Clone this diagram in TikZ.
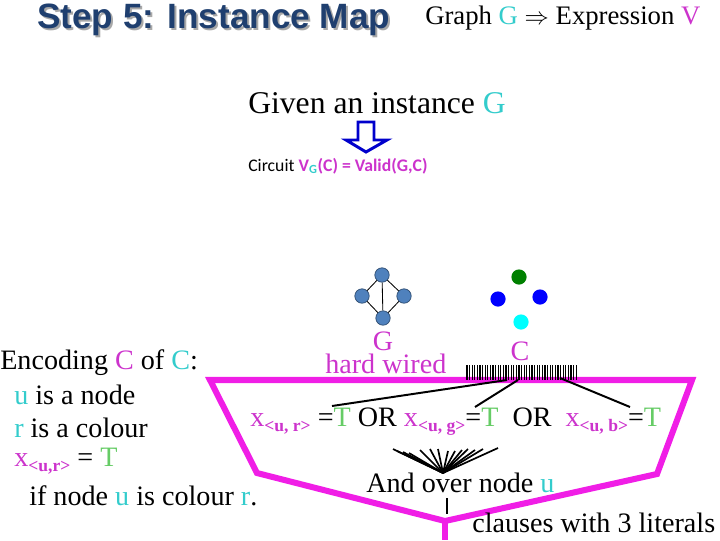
\documentclass[tikz,border=0pt]{standalone}
\usepackage{fontspec}
\setmainfont{Liberation Serif}
\setsansfont{Liberation Sans}
\newfontfamily\calibri{Carlito}
\usetikzlibrary{positioning}
\definecolor{titleblue}{HTML}{1F3F6F}
\definecolor{shadowgray}{HTML}{A8A8A8}
\definecolor{magent}{HTML}{CC33CC}
\definecolor{pinkline}{HTML}{F01EE6}
\definecolor{turq}{HTML}{33CCCC}
\definecolor{tgreen}{HTML}{66CC66}
\definecolor{steel}{HTML}{4F81BD}
\definecolor{darkgreen}{HTML}{008000}
\definecolor{purecyan}{HTML}{00FFFF}
\definecolor{pureblue}{HTML}{0000FF}
\definecolor{arrowblue}{HTML}{0000CC}
\newcommand{\xvar}[1]{{\color{magent}x\raisebox{-0.4ex}{\fontsize{12.5}{12.5}\selectfont\bfseries #1}}}
\newcommand{\tval}{{\color{tgreen}T}}
\tikzset{
  txt/.style={anchor=base west, inner sep=0pt, font=\fontsize{20}{24}\selectfont},
  bigtxt/.style={txt, font=\fontsize{22.5}{26}\selectfont},
  mtxt/.style={txt, text=magent},
  gnode/.style={circle, draw=steel!60!black, fill=steel, line width=0.5pt, minimum size=0.36cm, inner sep=0pt},
  cdot/.style={circle, minimum size=0.38cm, inner sep=0pt},
  gedge/.style={line width=0.6pt, draw=black},
  wire/.style={line width=1.4pt, draw=black},
  frame/.style={line width=4.3pt, draw=pinkline},
}

\begin{document}
\begin{tikzpicture}[x=0.025cm, y=-0.025cm]
  \useasboundingbox (0,0) rectangle (720,540);

  % heading
  \node[anchor=base west, inner sep=0pt, text=shadowgray, font=\sffamily\bfseries\fontsize{25}{28}\selectfont] (tshadow) at (39,30) {Step 5: Instance Map};
  \node[anchor=base west, inner sep=0pt, text=titleblue, font=\sffamily\bfseries\fontsize{25}{28}\selectfont] (title) at (37,28) {Step 5: Instance Map};
  \node[txt, font=\fontsize{19}{22}\selectfont] (map) at (425,24) {Graph {\color{turq}G} $\Rightarrow$ Expression {\color{magent}V}};

  \node[bigtxt] (given) at (248,113) {Given an instance {\color{turq}G}};
  \draw[line width=2.1pt, draw=arrowblue, fill=white, line join=miter]
    (358,122) -- (374,122) -- (374,140) -- (387,140) -- (366,152) -- (346,140) -- (358,140) -- cycle;
  \node[anchor=base west, inner sep=0pt, font=\calibri\fontsize{12.6}{14}\selectfont] (circ) at (248,171)
    {Circuit {\bfseries\color{magent}V\textsubscript{\color{turq}G}(C) = Valid(G,C)}};

  % graph G
  \node[gnode] (g1) at (382,275) {};
  \node[gnode] (g2) at (362,296) {};
  \node[gnode] (g3) at (404,296) {};
  \node[gnode] (g4) at (383,318) {};
  \foreach \a/\b in {g1/g2, g1/g3, g1/g4, g2/g4, g3/g4}
    \draw[gedge] (\a) -- (\b);

  % colours C
  \node[cdot, fill=darkgreen] (c1) at (519,277) {};
  \node[cdot, fill=pureblue] (c2) at (498,299) {};
  \node[cdot, fill=pureblue] (c3) at (540,297) {};
  \node[cdot, fill=purecyan] (c4) at (521,322) {};

  \node[mtxt, anchor=base] (glab) at (383,350) {G};
  \node[mtxt] (hw) at (325,373) {hard wired};
  \node[mtxt, anchor=base] (clab) at (520,360) {C};

  % encoding text
  \node[txt] (enc) at (0,369) {Encoding {\color{magent}C} of {\color{turq}C}:};
  \node[txt] (l1) at (14,404) {{\color{turq}u} is a node};
  \node[txt] (l2) at (14,437) {{\color{turq}r} is a colour};
  \node[txt] (l3) at (14,466) {\xvar{<u,r>} = \tval};
  \node[txt] (l4) at (29,505) {if node {\color{turq}u} is colour {\color{turq}r}.};

  % frame
  \draw[frame, line join=miter] (210,380) -- (692,380) -- (657,474) -- (445,521) -- (257,473) -- cycle;
  \draw[frame] (445,521) -- (445,540);

  % input bus
  \foreach \i in {0,...,42}
    \draw[line width=0.9pt] (467+2.6*\i,365) -- (467+2.6*\i,380);

  \node[txt] (ors) at (250,426) {\xvar{<u, r>} =\tval{} OR \xvar{<u, g>}=\tval\ \ OR\ \ \xvar{<u, b>}=\tval};

  \coordinate (b1) at (507,380);
  \coordinate (b2) at (518,380);
  \coordinate (b3) at (560,378);
  \coordinate (e1) at (332,406);
  \coordinate (e2) at (475,407);
  \coordinate (e3) at (630,407);
  \foreach \s/\t in {b1/e1, b2/e2, b3/e3}
    \draw[wire] (\s) -- (\t);

  % and gate fan
  \coordinate (fan) at (443,473);
  \foreach \x/\y in {393/449, 397/451, 403/452, 409/453, 420/450, 430/449, 438/449, 448/451, 455/451, 462/450, 468/449, 475/450, 483/449, 498/448}
    \draw[wire, line width=1.2pt] (fan) -- (\x,\y);

  \node[txt] (andu) at (366,492) {And over node {\color{turq}u}};
  \coordinate (tick1) at (447,498);
  \coordinate (tick2) at (447,514);
  \draw[line width=1pt] (tick1) -- (tick2);
  \node[txt] (claus) at (472,532) {clauses with 3 literals};
\end{tikzpicture}
\end{document}
